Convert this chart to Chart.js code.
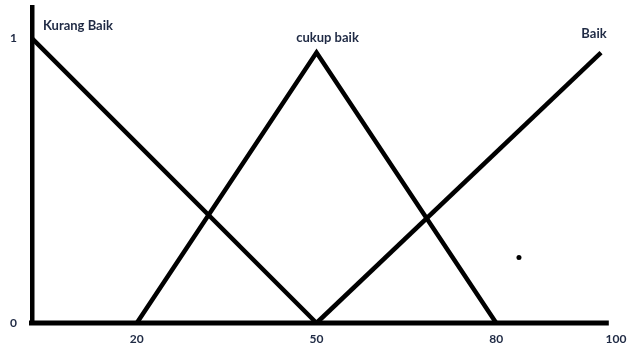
<!DOCTYPE html>
<html>
<head>
<meta charset="utf-8">
<script src="https://cdn.jsdelivr.net/npm/chart.js@4"></script>
<style>
  html, body { margin: 0; padding: 0; background: #fff; }
  #wrap { width: 628px; height: 345px; }
</style>
</head>
<body>
<div id="wrap"><canvas id="chartFuzzy"></canvas></div>
<script>
// membership functions
const seriesNames = ['Kurang Baik', 'cukup baik', 'Baik'];
const kurangBaik = [{ x: 2.5, y: 1 }, { x: 50, y: 0 }];
const cukupBaik = [{ x: 20, y: 0 }, { x: 50, y: 0.95 }, { x: 80, y: 0 }];
const baik = [{ x: 50, y: 0 }, { x: 97.5, y: 0.95 }];
const strayDot = [{ x: 83.8, y: 0.23 }];
const xAxisLine = [{ x: 2, y: 0 }, { x: 98.8, y: 0 }];
const xTicks = [20, 50, 80, 100];
const yTicks = [0, 1];

const textColor = '#1f2a44';

// series names written next to a point of each line
const nameLabels = {
    id: 'nameLabels',
    afterDatasetsDraw(chart) {
        const ctx = chart.ctx;
        const spots = [
            { ds: 0, pt: 0, dx: 11, dy: -13, align: 'left' },
            { ds: 1, pt: 1, dx: 11, dy: -15, align: 'center' },
            { ds: 2, pt: 1, dx: -7, dy: -19, align: 'center' }
        ];
        ctx.save();
        ctx.font = 'bold 13px Lato, "Open Sans", sans-serif';
        ctx.fillStyle = textColor;
        ctx.textBaseline = 'middle';
        spots.forEach(s => {
            const p = chart.getDatasetMeta(s.ds).data[s.pt];
            ctx.textAlign = s.align;
            ctx.fillText(seriesNames[s.ds], p.x + s.dx, p.y + s.dy);
        });
        ctx.restore();
    }
};

const lineStyle = { borderColor: '#000', borderWidth: 4.5, pointRadius: 0, fill: false, tension: 0, clip: false, borderJoinStyle: 'miter' };

new Chart(document.getElementById('chartFuzzy'), {
    type: 'line',
    data: {
        datasets: [
            Object.assign({ label: seriesNames[0], data: kurangBaik }, lineStyle),
            Object.assign({ label: seriesNames[1], data: cukupBaik }, lineStyle),
            Object.assign({ label: seriesNames[2], data: baik }, lineStyle),
            Object.assign({ label: 'sumbu', data: xAxisLine }, lineStyle, { borderWidth: 5, borderCapStyle: 'butt' }),
            { type: 'scatter', label: 'titik', data: strayDot, pointRadius: 2.5, pointBackgroundColor: '#000', pointBorderWidth: 0, clip: false }
        ]
    },
    options: {
        responsive: true,
        maintainAspectRatio: false,
        animation: false,
        layout: { padding: { top: 7, right: 12, left: 0, bottom: 0 } },
        plugins: { legend: { display: false }, tooltip: { enabled: false } },
        scales: {
            x: {
                type: 'linear',
                min: 2.5,
                max: 100,
                grid: { display: false, drawTicks: false },
                border: { display: false },
                afterBuildTicks: s => { s.ticks = xTicks.map(v => ({ value: v })); },
                afterFit: s => { s.height = 22; s.paddingLeft = 0; s.paddingRight = 0; },
                ticks: {
                    padding: 9,
                    maxRotation: 0,
                    autoSkip: false,
                    color: textColor,
                    font: { family: 'Lato, "Open Sans", sans-serif', size: 12, weight: 'bold' }
                }
            },
            y: {
                type: 'linear',
                min: 0,
                max: 1.11,
                grid: { display: false, drawTicks: false },
                border: { display: true, color: '#000', width: 4.5 },
                afterBuildTicks: s => { s.ticks = yTicks.map(v => ({ value: v })); },
                afterFit: s => { s.width = 32; s.paddingTop = 0; s.paddingBottom = 0; },
                ticks: {
                    padding: 15,
                    color: textColor,
                    font: { family: 'Lato, "Open Sans", sans-serif', size: 12, weight: 'bold' }
                }
            }
        }
    },
    plugins: [nameLabels]
});
</script>
</body>
</html>
